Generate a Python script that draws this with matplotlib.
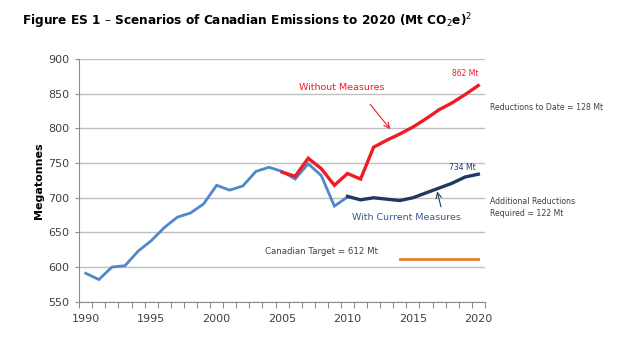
import numpy as np
import matplotlib
matplotlib.use("Agg")
from matplotlib import pyplot as plt

# historical emissions (Mt)
hist_years = np.arange(1990, 2011)
hist_vals = [591, 582, 600, 602, 623, 638, 657, 672, 678, 691,
             718, 711, 717, 738, 744, 738, 727, 749, 732, 688, 701]

# projection without measures
wom_years = np.arange(2005, 2021)
wom_vals = [737, 731, 757, 742, 718, 735, 727, 773, 783, 792,
            802, 814, 827, 837, 849, 862]

# projection with current measures
wcm_years = np.arange(2010, 2021)
wcm_vals = [702, 697, 700, 698, 696, 700, 707, 714, 721, 730, 734]

# target
target_years = [2014, 2020]
target_vals = [612, 612]

lightblue = '#4f87c9'
red = '#ee1c25'
navy = '#1f3864'
orange = '#e0802e'
txt = '#404040'

fig = plt.figure(figsize=(6.24, 3.46), dpi=100)
ax = fig.add_axes([0.127, 0.128, 0.650, 0.701])

ax.plot(hist_years, hist_vals, color=lightblue, lw=2, solid_joinstyle='miter', zorder=3)
ax.plot(wom_years, wom_vals, color=red, lw=2.4, solid_joinstyle='miter', zorder=4)
ax.plot(wcm_years, wcm_vals, color=navy, lw=2.4, solid_joinstyle='miter', zorder=4)
ax.plot(target_years, target_vals, color=orange, lw=2, zorder=3)

ax.set_xlim(1989.5, 2020.5)
ax.set_ylim(550, 900)
ax.set_yticks(np.arange(550, 901, 50))
ax.set_xticks(np.arange(1989.5, 2021, 1))
ax.set_xticklabels([])
ax.set_xticks(np.arange(1990, 2021, 5), minor=True)
ax.set_xticklabels([str(y) for y in range(1990, 2021, 5)], minor=True)
ax.tick_params(axis='x', which='major', length=4, color='#8c8c8c', direction='out')
ax.tick_params(axis='x', which='minor', length=0, labelsize=8, labelcolor=txt, pad=9)
ax.tick_params(axis='y', length=3, color='#8c8c8c', labelsize=8, labelcolor=txt, pad=4)
ax.grid(axis='y', color='#bfbfbf', lw=1)
ax.set_axisbelow(True)
for s in ['top', 'right']:
    ax.spines[s].set_visible(False)
for s in ['left', 'bottom']:
    ax.spines[s].set_color('#8c8c8c')

ax.set_ylabel('Megatonnes', fontsize=8, fontweight='bold', color='black', labelpad=3)

fig.text(0.035, 0.94, r'Figure ES 1 – Scenarios of Canadian Emissions to 2020 (Mt CO$_2$e)$^2$',
         fontsize=8.7, fontweight='bold', ha='left', va='center')

ax.text(2006.3, 859.5, 'Without Measures', color=red, fontsize=6.8, ha='left', va='center')
ax.annotate('', xy=(2013.4, 796), xytext=(2011.6, 838),
            arrowprops=dict(arrowstyle='->', color=red, lw=0.8))
ax.text(2019.0, 880, '862 Mt', color=red, fontsize=5.5, ha='center', va='center')
ax.text(2020.9, 830.5, 'Reductions to Date = 128 Mt', color=txt, fontsize=5.6,
        ha='left', va='center', clip_on=False)
ax.text(2018.8, 744, '734 Mt', color=navy, fontsize=5.5, ha='center', va='center')
ax.text(2020.9, 686, 'Additional Reductions\nRequired = 122 Mt', color=txt, fontsize=5.6,
        ha='left', va='center', linespacing=1.5, clip_on=False)
ax.text(2014.5, 671.5, 'With Current Measures', color='#3b5a8a', fontsize=6.8,
        ha='center', va='center')
ax.annotate('', xy=(2016.8, 713), xytext=(2017.2, 683),
            arrowprops=dict(arrowstyle='->', color=navy, lw=0.8))
ax.text(2008.05, 622.3, 'Canadian Target = 612 Mt', color=txt, fontsize=6.2,
        ha='center', va='center')

fig.savefig('out.png', dpi=100)
